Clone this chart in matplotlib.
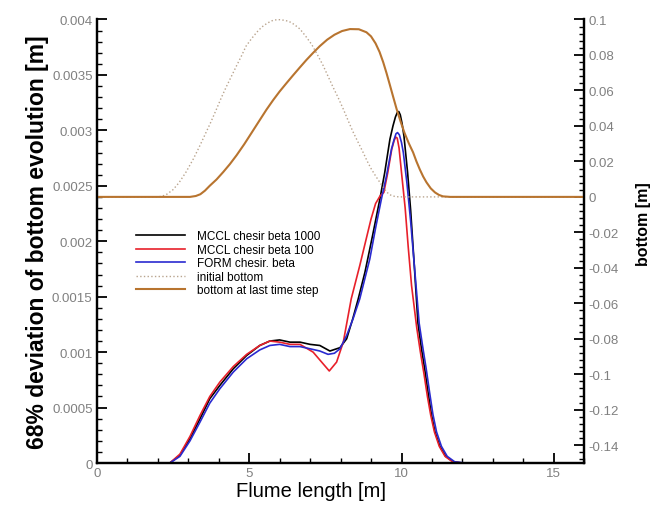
import numpy as np
import matplotlib.pyplot as plt
from matplotlib.ticker import MultipleLocator, FuncFormatter

plt.rcParams['font.family'] = ['Liberation Sans', 'DejaVu Sans']

# 68% deviation curves (left axis), flume length in m
black_x = [0, 2.4, 2.73, 3.06, 3.39, 3.71, 4.04, 4.48, 4.92, 5.35, 5.68, 6.0, 6.34, 6.67, 7.0, 7.32,
           7.65, 7.98, 8.2, 8.4, 8.58, 8.8, 9.05, 9.29, 9.45, 9.62, 9.72, 9.8, 9.86, 9.91, 9.96, 10.02,
           10.08, 10.2, 10.3, 10.42, 10.54, 10.65, 10.76, 10.87, 10.98, 11.1, 11.26, 11.45, 11.7, 12.0, 16]
black_y = [0, 0, 0.00007, 0.00022, 0.0004, 0.00058, 0.0007, 0.00085, 0.00097, 0.00106, 0.0011, 0.00111,
           0.00109, 0.00109, 0.00107, 0.00106, 0.00101, 0.00104, 0.00112, 0.0013, 0.00148, 0.00172,
           0.00205, 0.00238, 0.00262, 0.00292, 0.00304, 0.00312, 0.00316, 0.00317, 0.00314, 0.00306,
           0.00295, 0.00262, 0.00228, 0.00178, 0.00126, 0.00104, 0.00085, 0.00064, 0.00044, 0.00028,
           0.00015, 0.00006, 0.00001, 0, 0]

red_x = [0, 2.4, 2.73, 3.06, 3.39, 3.71, 4.04, 4.48, 4.92, 5.35, 5.68, 6.0, 6.34, 6.67, 7.1, 7.38,
         7.63, 7.87, 8.09, 8.35, 8.63, 8.85, 9.0, 9.15, 9.3, 9.42, 9.55, 9.68, 9.76, 9.81, 9.86, 9.92,
         10.0, 10.12, 10.22, 10.33, 10.5, 10.62, 10.74, 10.85, 10.96, 11.08, 11.24, 11.43, 11.68, 12.0, 16]
red_y = [0, 0, 0.00008, 0.00024, 0.00043, 0.0006, 0.00073, 0.00087, 0.00098, 0.00106, 0.0011, 0.00109,
         0.00107, 0.00107, 0.001, 0.00091, 0.00083, 0.00091, 0.00109, 0.00148, 0.00178, 0.00203,
         0.0022, 0.00234, 0.00241, 0.00244, 0.00262, 0.00283, 0.00291, 0.00294, 0.00293, 0.00284,
         0.00262, 0.0023, 0.00195, 0.0016, 0.00122, 0.001, 0.0008, 0.0006, 0.00043, 0.00028, 0.00015,
         0.00006, 0.00001, 0, 0]

blue_x = [0, 2.4, 2.73, 3.06, 3.39, 3.71, 4.04, 4.48, 4.92, 5.35, 5.68, 6.0, 6.34, 6.67, 7.0, 7.32,
          7.59, 7.8, 7.98, 8.2, 8.41, 8.63, 8.96, 9.15, 9.34, 9.5, 9.67, 9.76, 9.82, 9.87, 9.93, 10.0,
          10.06, 10.18, 10.3, 10.44, 10.58, 10.7, 10.81, 10.92, 11.03, 11.15, 11.31, 11.5, 11.75, 12.1, 16]
blue_y = [0, 0, 0.00006, 0.0002, 0.00037, 0.00054, 0.00067, 0.00082, 0.00094, 0.00102, 0.00106, 0.00107,
          0.00105, 0.00105, 0.00103, 0.00101, 0.00098, 0.00099, 0.00103, 0.00115, 0.0013, 0.00148,
          0.00184, 0.00212, 0.00238, 0.00258, 0.00283, 0.00292, 0.00297, 0.00298, 0.00296, 0.00289,
          0.0028, 0.00252, 0.00218, 0.00172, 0.00126, 0.00104, 0.00085, 0.00064, 0.00044, 0.00028,
          0.00015, 0.00006, 0.00001, 0, 0]

# bottom elevation (right axis)
init_x = [0, 2.0, 2.15, 2.3, 2.5, 2.7, 2.93, 3.17, 3.36, 3.55, 3.74, 3.93, 4.09, 4.25, 4.42, 4.59,
          4.75, 4.9, 5.07, 5.25, 5.42, 5.6, 5.78, 5.95, 6.13, 6.3, 6.48, 6.67, 6.86, 7.05, 7.24, 7.43,
          7.59, 7.75, 7.92, 8.09, 8.25, 8.4, 8.57, 8.74, 8.87, 9.0, 9.15, 9.29, 9.4, 9.5, 9.6, 9.71,
          9.85, 10.0, 16]
init_y = [0, 0, 0.0004, 0.0015, 0.004, 0.008, 0.014, 0.0214, 0.028, 0.035, 0.042, 0.0495, 0.056, 0.062,
          0.068, 0.074, 0.0795, 0.085, 0.089, 0.0928, 0.0958, 0.098, 0.0995, 0.1, 0.0996, 0.099, 0.0972,
          0.0946, 0.0905, 0.086, 0.0802, 0.074, 0.068, 0.062, 0.056, 0.0495, 0.043, 0.037, 0.031, 0.0251,
          0.0203, 0.016, 0.0118, 0.0082, 0.0055, 0.003, 0.0014, 0.0005, 0.0001, 0, 0]

last_x = [0, 3.06, 3.25, 3.4, 3.55, 3.71, 3.93, 4.15, 4.37, 4.59, 4.84, 5.08, 5.33, 5.57, 5.79, 6.0,
          6.22, 6.44, 6.66, 6.88, 7.1, 7.32, 7.56, 7.8, 8.05, 8.31, 8.6, 8.85, 9.0, 9.15, 9.28, 9.4,
          9.51, 9.62, 9.73, 9.84, 9.97, 10.1, 10.24, 10.38, 10.49, 10.6, 10.71, 10.82, 10.96, 11.1,
          11.23, 11.36, 11.6, 16]
last_y = [0, 0, 0.0005, 0.0015, 0.0035, 0.0063, 0.0098, 0.014, 0.0185, 0.0235, 0.0297, 0.0361, 0.0428,
          0.0492, 0.0546, 0.0594, 0.064, 0.0685, 0.0729, 0.0772, 0.0812, 0.085, 0.0886, 0.0914, 0.0935,
          0.0946, 0.0945, 0.0928, 0.0905, 0.0865, 0.0817, 0.0759, 0.0697, 0.063, 0.0562, 0.0495, 0.0425,
          0.036, 0.0302, 0.0251, 0.02, 0.0155, 0.0115, 0.0082, 0.0048, 0.0025, 0.0011, 0.0003, 0, 0]

labels = ['MCCL chesir beta 1000', 'MCCL chesir beta 100', 'FORM chesir. beta',
          'initial bottom', 'bottom at last time step']

fig = plt.figure(figsize=(6.68, 5.06), dpi=100)
ax = fig.add_axes([0.1448, 0.083, 0.730, 0.8765])
ax2 = ax.twinx()

l1, = ax.plot(black_x, black_y, color='black', lw=1.2)
l2, = ax.plot(red_x, red_y, color='#e8202a', lw=1.2)
l3, = ax.plot(blue_x, blue_y, color='#2a2ad0', lw=1.2)
l4, = ax2.plot(init_x, init_y, color='#b9a48e', lw=1.0, ls=':')
l5, = ax2.plot(last_x, last_y, color='#b8742f', lw=1.5)

ax.set_xlim(0, 16)
ax.set_ylim(0, 0.004)
ax2.set_ylim(-0.15, 0.1)

ax.xaxis.set_major_locator(MultipleLocator(5))
ax.xaxis.set_minor_locator(MultipleLocator(1))
ax.yaxis.set_major_locator(MultipleLocator(0.0005))
ax.yaxis.set_minor_locator(MultipleLocator(0.0001))
ax2.yaxis.set_major_locator(MultipleLocator(0.02))
ax2.yaxis.set_minor_locator(MultipleLocator(0.004))

ax.yaxis.set_major_formatter(FuncFormatter(lambda v, p: '0' if abs(v) < 1e-12 else ('%.4f' % v).rstrip('0')))
ax2.yaxis.set_major_formatter(FuncFormatter(lambda v, p: '0' if abs(v) < 1e-9 else ('%.2f' % v).rstrip('0')))
ax2.set_ylim(-0.15, 0.1)

for a in (ax, ax2):
    a.spines['top'].set_visible(False)
    for s in a.spines.values():
        s.set_linewidth(1.6)
ax.tick_params(axis='both', which='major', direction='in', length=7, width=1.3,
               labelsize=9.5, labelcolor='#808080', pad=3)
ax.tick_params(axis='both', which='minor', direction='in', length=3.5, width=1.0)
ax2.tick_params(axis='y', which='major', direction='in', length=7, width=1.3,
                labelsize=9.5, labelcolor='#808080', pad=3)
ax2.tick_params(axis='y', which='minor', direction='in', length=3.5, width=1.0)

ax.set_xlabel('Flume length [m]', fontsize=14.5)
ax.xaxis.set_label_coords(0.44, -0.04)
ax.set_ylabel('68% deviation of bottom evolution [m]', fontsize=16.5, fontweight='bold', labelpad=2)
ax2.set_ylabel('bottom [m]', fontsize=11.5, fontweight='bold')
ax2.yaxis.set_label_coords(1.105, 0.54)

ax2.legend([l1, l2, l3, l4, l5], labels, loc='upper left', bbox_to_anchor=(0.07, 0.535),
           frameon=False, fontsize=8.5, handlelength=4.2, handletextpad=1.0, labelspacing=0.12,
           borderaxespad=0)

fig.savefig('out.png', dpi=100)
